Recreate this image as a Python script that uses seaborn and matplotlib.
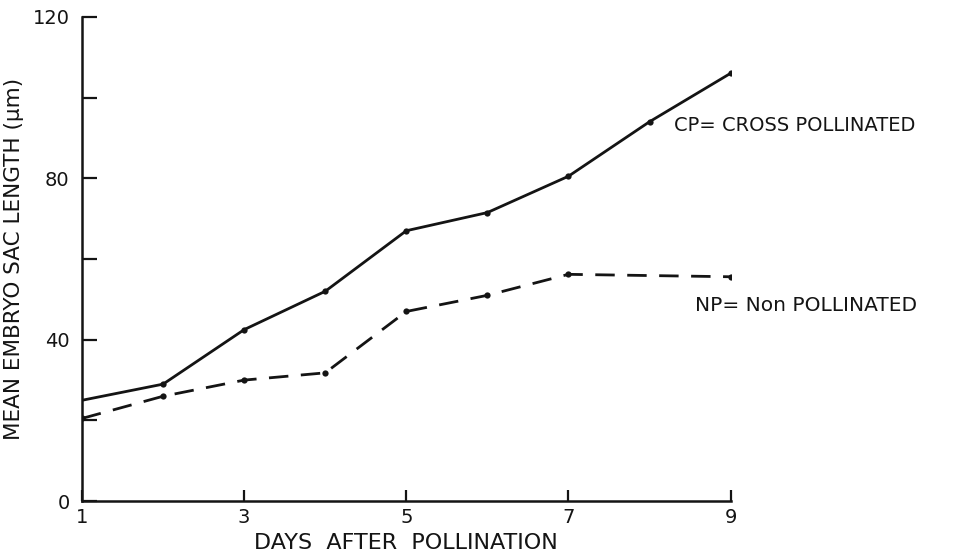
import matplotlib
matplotlib.use("Agg")
import matplotlib.pyplot as plt
from matplotlib.ticker import MultipleLocator
import pandas as pd
import seaborn as sns

# values
cp_days = [1, 2, 3, 4, 5, 6, 7, 8, 9]
cp_length = [25, 29, 42.5, 52, 67, 71.5, 80.5, 94, 106]
np_days = [1, 2, 3, 4, 5, 6, 7, 9]
np_length = [20.5, 26, 30, 31.8, 47, 51, 56.2, 55.6]

x_ticks = [1, 3, 5, 7, 9]
y_ticks = [0, 40, 80, 120]

INK = "#141414"

sns.set_style("ticks")
plt.rcParams["font.family"] = ["DejaVu Sans"]

cp_df = pd.DataFrame({"day": cp_days, "length": cp_length})
np_df = pd.DataFrame({"day": np_days, "length": np_length})

fig = plt.figure(figsize=(9.58, 5.6), dpi=100)
ax = fig.add_axes([0.0856, 0.105, 0.677, 0.865])

sns.lineplot(data=cp_df, x="day", y="length", ax=ax, color=INK, linewidth=2.0,
             marker="o", markersize=4.5, markeredgewidth=0,
             markevery=list(range(1, len(cp_days))))
sns.lineplot(data=np_df, x="day", y="length", ax=ax, color=INK, linewidth=2.0,
             marker="o", markersize=4.5, markeredgewidth=0, dashes=False)
ax.lines[-1].set_dashes((7, 4.5))

ax.set_xlim(1, 9)
ax.set_ylim(0, 120)
ax.set_xticks(x_ticks)
ax.set_yticks(y_ticks)
ax.yaxis.set_minor_locator(MultipleLocator(20))
ax.tick_params(axis="both", which="both", direction="in", color=INK, width=1.6)
ax.tick_params(axis="y", which="major", length=11, pad=9, labelsize=14, labelcolor=INK)
ax.tick_params(axis="y", which="minor", length=11)
ax.tick_params(axis="x", which="major", length=8, pad=5, labelsize=14, labelcolor=INK)

for side in ["top", "right"]:
    ax.spines[side].set_visible(False)
for side in ["left", "bottom"]:
    ax.spines[side].set_color(INK)
    ax.spines[side].set_linewidth(1.8)

ax.set_xlabel("DAYS  AFTER  POLLINATION", fontsize=16, color=INK, labelpad=4)
ax.set_ylabel("MEAN EMBRYO SAC LENGTH (\u03bcm)", fontsize=15.5, color=INK, labelpad=6)

# hand-written annotations beside the curves
ax.text(8.3, 93, "CP= CROSS POLLINATED", fontsize=14, color=INK, va="center", ha="left",
        clip_on=False)
ax.text(8.56, 48.5, "NP= Non POLLINATED", fontsize=14.5, color=INK, va="center", ha="left",
        clip_on=False)

fig.savefig("out.png", dpi=100, facecolor="white")
